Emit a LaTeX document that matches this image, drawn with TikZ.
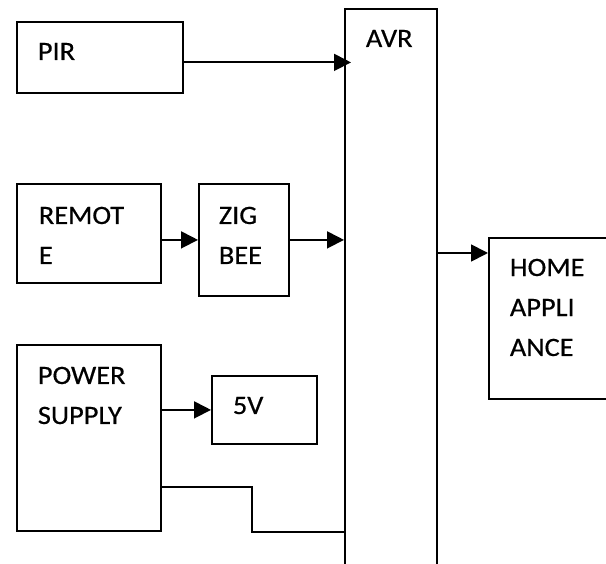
\documentclass[tikz,border=0pt]{standalone}
\usepackage{fontspec}
\setmainfont{Carlito}[FakeStretch=1.07, FakeBold=0.5]
\usetikzlibrary{arrows.meta}

\begin{document}
\begin{tikzpicture}[
    x=1pt, y=-1pt,
    font=\fontsize{26.5}{40}\selectfont,
    line width=1.8pt,
    block/.style={draw, rectangle, anchor=north west, inner sep=0pt},
    label text/.style={anchor=base west, align=left, inner sep=0pt},
    arr/.style={-{Triangle[length=17pt 0 0,width=17pt 0 0]}},
]

\useasboundingbox (0,0) rectangle (606,564);
\clip (0,0) rectangle (606,564);

% AVR (runs off the bottom)
\node[block, minimum width=92pt, minimum height=580pt] (avr) at (344,8) {};
\node[label text] (avrtxt) at (365,47) {AVR};

% PIR
\node[block, minimum width=166pt, minimum height=71pt] (pir) at (16,21) {};
\node[label text] (pirtxt) at (37,60) {PIR};

% Remote and ZigBee (base = last line)
\node[block, minimum width=144pt, minimum height=99pt] (remote) at (16,183) {};
\node[label text] (remotetxt) at (38,264) {REMOT\\E};
\node[block, minimum width=90pt, minimum height=112pt] (zigbee) at (198,183) {};
\node[label text] (zigbeetxt) at (218,264) {ZIG\\BEE};

% Power supply and 5V
\node[block, minimum width=144pt, minimum height=186pt] (supply) at (16,344) {};
\node[label text] (supplytxt) at (37,424) {POWER\\SUPPLY};
\node[block, minimum width=105pt, minimum height=68pt] (volt) at (211,375) {};
\node[label text] (volttxt) at (232,414) {5V};

% Home appliance (runs off the right edge)
\node[block, minimum width=140pt, minimum height=161pt] (home) at (488,237) {};
\node[label text] (hometxt) at (509,356) {HOME\\APPLI\\ANCE};

% Connections
\coordinate (bend) at (252,487);
\draw[arr] ([yshift=-5pt]pir.east) -- ([xshift=7pt,yshift=-5pt]pir.east -| avr.west);
\draw[arr] (remote.east |- zigbee.west) -- (zigbee.west);
\draw[arr] (zigbee.east) -- (zigbee.east -| avr.west);
\draw[arr] (supply.east |- volt.west) -- (volt.west);
\draw (supply.east |- bend) -- (bend) |- (avr.west |- supply.south);
\draw[arr] ([yshift=-16pt]home.north west -| avr.east) -- ([yshift=-16pt]home.north west);

\end{tikzpicture}
\end{document}
